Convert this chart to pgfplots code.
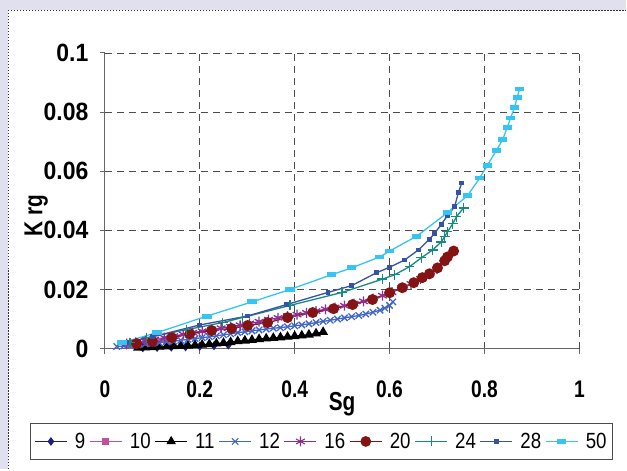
\documentclass[border=0pt]{standalone}
\usepackage{fontspec}
\setmainfont{Liberation Sans}[FakeStretch=0.8]
\newfontfamily\ytickfont{Liberation Sans}[FakeStretch=0.92]
\newfontfamily\legfont{Liberation Sans}[FakeStretch=0.85]
\usepackage{pgfplots}
\pgfplotsset{compat=1.18}
\definecolor{bglav}{HTML}{E1E0EE}
\definecolor{cnine}{HTML}{1F1F80}
\definecolor{cten}{HTML}{C04FA0}
\definecolor{ctwelve}{HTML}{4066C8}
\definecolor{csixteen}{HTML}{8E2E8E}
\definecolor{ctwenty}{HTML}{841414}
\definecolor{ctwfour}{HTML}{168A7E}
\definecolor{ctweight}{HTML}{3352A8}
\definecolor{cfifty}{HTML}{36C4F2}
\begin{document}
\begin{tikzpicture}
\fill[bglav] (0pt,0pt) rectangle (627pt,470pt);
\fill[white] (8pt,0pt) rectangle (627pt,460pt);
\draw[gray!40!black, line width=1.4pt, dash pattern=on 1.2pt off 1.8pt] (8.5pt,0pt) -- (8.5pt,459.5pt) -- (627pt,459.5pt);
\begin{axis}[
  at={(105pt,121pt)}, anchor=south west,
  scale only axis, width=475pt, height=296pt,
  xmin=0, xmax=1, ymin=0, ymax=0.1,
  axis lines=left, axis line style={-, gray!80!black, line width=0.9pt},
  xtick={0,0.2,0.4,0.6,0.8,1}, ytick={0,0.02,0.04,0.06,0.08,0.1},
  scaled y ticks=false, scaled x ticks=false,
  /pgf/number format/fixed, /pgf/number format/precision=2,
  /pgf/number format/assume math mode=true,
  tick align=outside, major tick length=5pt,
  tick style={gray!80!black, line width=0.9pt},
  grid=major, major grid style={black!70, dash pattern=on 7pt off 5pt, line width=0.8pt},
  xticklabel style={font=\bfseries\fontsize{24}{24}\selectfont, yshift=-24pt},
  yticklabel style={font=\ytickfont\bfseries\fontsize{25}{25}\selectfont, xshift=-8pt},
  xlabel={Sg}, ylabel={K rg},
  label style={font=\bfseries\fontsize{26}{26}\selectfont},
  xlabel style={at={(rel axis cs:0.5,0)}, anchor=center, yshift=-56pt},
  ylabel style={at={(rel axis cs:-0.145,0.449)}, anchor=center},
  legend columns=9,
  legend style={at={(rel axis cs:0.4565,-0.314)}, anchor=center, draw=gray!60!black, line width=0.9pt,
    font=\legfont\fontsize{22}{22}\selectfont, inner xsep=4pt, inner ysep=8pt,
    nodes={inner xsep=2pt},
    /tikz/every even column/.append style={column sep=2pt},
    /tikz/every odd column/.append style={column sep=5.5pt}},
  legend image code/.code={\draw[mark repeat=2,mark phase=2,line width=1.1pt] plot coordinates {(0pt,0pt)(16pt,0pt)(32pt,0pt)};},
  every axis plot/.append style={line width=1.3pt},
]
\addplot[cnine, mark=diamond*, mark size=3.5pt] coordinates {
(0.08,0.0003)(0.11,0.0004)(0.14,0.0005)(0.17,0.0006)(0.20,0.0008)(0.23,0.0010)(0.26,0.0012)};
\addlegendentry{9}
\addplot[cten, mark=square*, mark size=3pt] coordinates {
(0.05,0.0012)(0.07,0.0015)(0.09,0.0019)(0.11,0.0023)(0.13,0.0027)};
\addlegendentry{10}
\addplot[black, mark=triangle*, mark size=4.5pt] coordinates {
(0.07,0.0003)(0.085,0.0004)(0.10,0.0005)(0.115,0.0006)(0.13,0.0007)(0.145,0.0008)(0.16,0.0009)(0.175,0.0010)(0.19,0.0012)(0.205,0.0013)(0.22,0.0015)(0.235,0.0017)(0.25,0.0019)(0.265,0.0022)(0.28,0.0025)(0.295,0.0027)(0.31,0.0029)(0.325,0.0032)(0.34,0.0034)(0.355,0.0036)(0.37,0.0038)(0.385,0.0040)(0.40,0.0042)(0.415,0.0044)(0.43,0.0047)(0.445,0.0051)(0.46,0.0056)};
\addlegendentry{11}
\addplot[ctwelve, mark=x, mark size=4.5pt] coordinates {
(0.025,0.0007)(0.04,0.0009)(0.055,0.0011)(0.07,0.0013)(0.085,0.0016)(0.10,0.0018)(0.115,0.0020)(0.13,0.0023)(0.145,0.0025)(0.16,0.0028)(0.175,0.0031)(0.19,0.0034)(0.205,0.0037)(0.22,0.0040)(0.235,0.0043)(0.25,0.0047)(0.265,0.0050)(0.28,0.0054)(0.295,0.0057)(0.31,0.0060)(0.325,0.0063)(0.34,0.0066)(0.355,0.0069)(0.37,0.0071)(0.385,0.0074)(0.40,0.0077)(0.415,0.0080)(0.43,0.0084)(0.445,0.0088)(0.46,0.0092)(0.475,0.0096)(0.49,0.0100)(0.505,0.0104)(0.52,0.0108)(0.535,0.0112)(0.55,0.0117)(0.565,0.0123)(0.58,0.0130)(0.59,0.0137)(0.60,0.0146)(0.607,0.0158)};
\addlegendentry{12}
\addplot[csixteen, mark=asterisk, mark size=5pt] coordinates {
(0.046,0.0017)(0.065,0.0021)(0.085,0.0026)(0.105,0.0031)(0.125,0.0037)(0.145,0.0042)(0.165,0.0048)(0.185,0.0054)(0.205,0.0059)(0.225,0.0064)(0.245,0.0069)(0.265,0.0074)(0.285,0.0079)(0.305,0.0085)(0.325,0.0091)(0.345,0.0098)(0.365,0.0104)(0.385,0.0110)(0.405,0.0115)(0.425,0.0121)(0.445,0.0127)(0.465,0.0133)(0.485,0.0139)(0.505,0.0145)(0.525,0.0152)(0.545,0.0160)(0.565,0.0169)(0.585,0.0179)(0.605,0.0191)(0.625,0.0205)(0.645,0.0219)(0.665,0.0236)(0.685,0.0254)(0.70,0.0270)};
\addlegendentry{16}
\addplot[ctwenty, mark=*, mark size=4.8pt] coordinates {
(0.067,0.0017)(0.10,0.0024)(0.141,0.0037)(0.179,0.0050)(0.225,0.0061)(0.267,0.0068)(0.301,0.0078)(0.343,0.0088)(0.385,0.0105)(0.438,0.0122)(0.482,0.0135)(0.522,0.0149)(0.564,0.0166)(0.60,0.0189)(0.627,0.0206)(0.651,0.0223)(0.669,0.0240)(0.684,0.0253)(0.701,0.0273)(0.716,0.0297)(0.722,0.0310)(0.735,0.0330)};
\addlegendentry{20}
\addplot[ctwfour, mark=+, mark size=5pt] coordinates {
(0.053,0.0020)(0.088,0.0037)(0.172,0.0064)(0.248,0.0088)(0.29,0.0105)(0.39,0.0146)(0.50,0.0190)(0.585,0.0235)(0.611,0.0250)(0.642,0.0277)(0.667,0.0307)(0.691,0.0334)(0.709,0.0361)(0.716,0.0378)(0.722,0.0395)(0.733,0.0422)(0.741,0.0446)(0.756,0.0476)};
\addlegendentry{24}
\addplot[ctweight, mark=square*, mark size=1.7pt] coordinates {
(0.046,0.0020)(0.10,0.0040)(0.20,0.0080)(0.30,0.0110)(0.383,0.0149)(0.47,0.0190)(0.52,0.0213)(0.573,0.0257)(0.60,0.0275)(0.632,0.0300)(0.661,0.0334)(0.684,0.0370)(0.695,0.0390)(0.709,0.0420)(0.722,0.0450)(0.737,0.0480)(0.745,0.0527)(0.752,0.0560)};
\addlegendentry{28}
\addplot[cfifty, mark=square*, mark size=1.8pt, mark options={xscale=2.2}] coordinates {
(0.036,0.0020)(0.11,0.0054)(0.215,0.0110)(0.31,0.0158)(0.39,0.0200)(0.478,0.0250)(0.52,0.0273)(0.579,0.0310)(0.60,0.0330)(0.657,0.0380)(0.722,0.0460)(0.764,0.0517)(0.79,0.0577)(0.806,0.0620)(0.825,0.0670)(0.838,0.0706)(0.848,0.0747)(0.855,0.0780)(0.863,0.0814)(0.869,0.0850)(0.874,0.0878)};
\addlegendentry{50}
\end{axis}
\end{tikzpicture}
\end{document}
